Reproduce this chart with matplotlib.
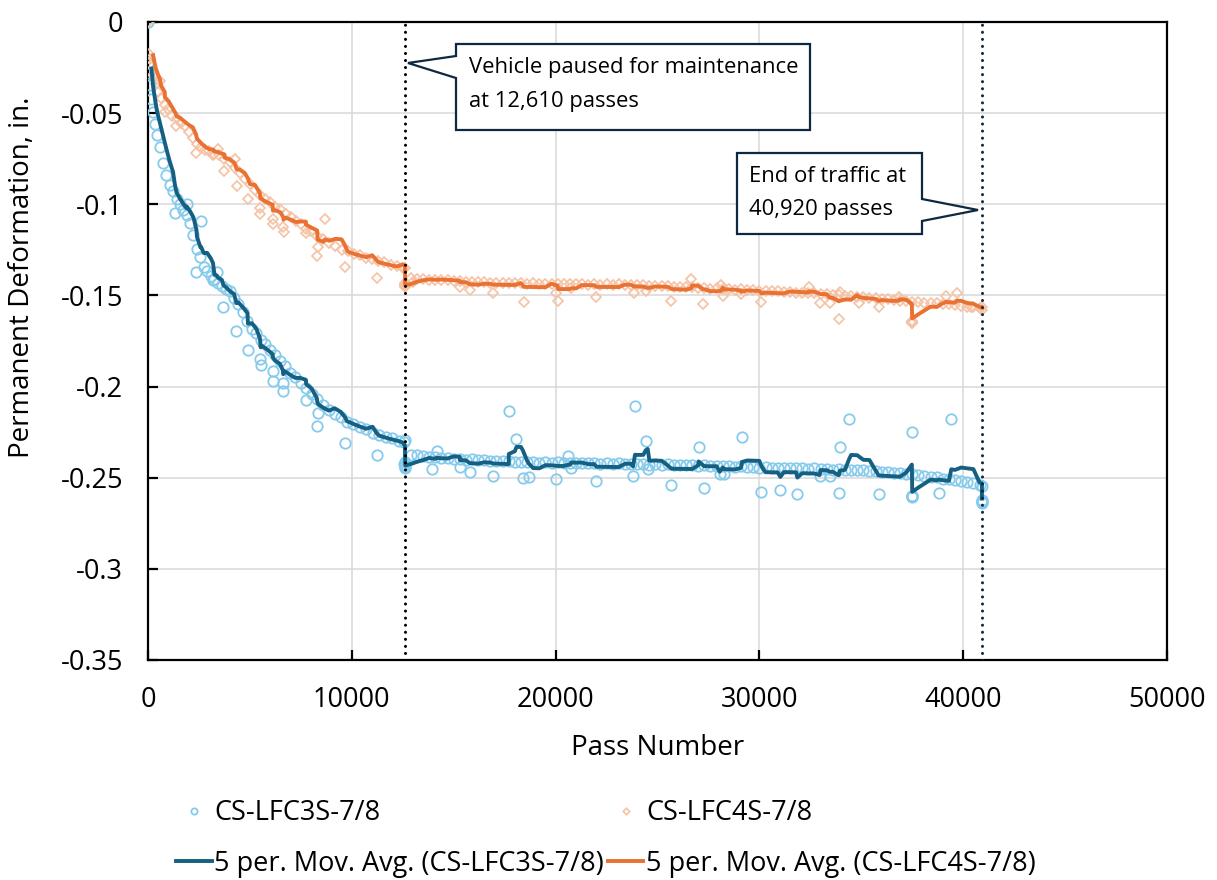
import numpy as np
import pandas as pd
import matplotlib
matplotlib.use("Agg")
import matplotlib.pyplot as plt
from matplotlib.patches import Polygon
from matplotlib.ticker import FuncFormatter

# ---------------------------------------------------------------------------
# Permanent deformation readings (pass number, deformation in inches)
# ---------------------------------------------------------------------------
series_3s = "CS-LFC3S-7/8"
series_4s = "CS-LFC4S-7/8"

# CS-LFC3S-7/8: readings along the main trend
pass_3s_main = [
    0, 20, 50, 100, 170, 250, 340, 440, 590, 740, 900, 1060, 1230, 1400, 1560,
    1720, 1890, 2060, 2230, 2400, 2570, 2740, 2900, 3080, 3260, 3440, 3620,
    3820, 4020, 4220, 4440, 4660, 4880, 5100, 5320, 5540, 5760, 5980, 6220,
    6470, 6720, 6970, 7230, 7490, 7760, 8030, 8300, 8580, 8870, 9160, 9460,
    9760, 10070, 10380, 10700, 11020, 11340, 11660, 11980, 12300, 12560,
    12900, 13200, 13500, 13800, 14100, 14400, 14700, 15000, 15300, 15600,
    15900, 16200, 16500, 16800, 17100, 17400, 17700, 18000, 18300, 18600,
    18900, 19200, 19500, 19800, 20100, 20400, 20700, 21000, 21300, 21600,
    21900, 22200, 22500, 22800, 23100, 23400, 23700, 24000, 24300, 24600,
    24900, 25200, 25500, 25800, 26100, 26400, 26700, 27000, 27300, 27600,
    27900, 28200, 28500, 28800, 29100, 29400, 29700, 30000, 30300, 30600,
    30900, 31200, 31500, 31800, 32100, 32400, 32700, 33000, 33300, 33600,
    33900, 34200, 34500, 34800, 35100, 35400, 35700, 36000, 36300, 36600,
    36900, 37200, 37500, 37800, 38100, 38400, 38700, 39000, 39300, 39600,
    39900, 40200, 40500, 40800,
]
defl_3s_main = [
    0.0, -0.0225, -0.0282, -0.0348, -0.0421, -0.0493, -0.0558, -0.0622,
    -0.0688, -0.0772, -0.0838, -0.0893, -0.0927, -0.0972, -0.0998, -0.1032,
    -0.1058, -0.1103, -0.1168, -0.1243, -0.1288, -0.1342, -0.1368, -0.1392,
    -0.1408, -0.1433, -0.1447, -0.1462, -0.1478, -0.1513, -0.1548, -0.1592,
    -0.1638, -0.1683, -0.1707, -0.1743, -0.1768, -0.1802, -0.1828, -0.1862,
    -0.1888, -0.1923, -0.1948, -0.1982, -0.2008, -0.2042, -0.2068, -0.2102,
    -0.2128, -0.2152, -0.2168, -0.2192, -0.2203, -0.2222, -0.2233, -0.2252,
    -0.2263, -0.2277, -0.2284, -0.2296, -0.2302,
    -0.2373, -0.2378, -0.2380, -0.2386, -0.2384, -0.2391, -0.2392, -0.2395,
    -0.2396, -0.2401, -0.2400, -0.2405, -0.2404, -0.2409, -0.2407, -0.2411,
    -0.2410, -0.2414, -0.2412, -0.2416, -0.2414, -0.2418, -0.2415, -0.2419,
    -0.2416, -0.2420, -0.2418, -0.2421, -0.2419, -0.2422, -0.2420, -0.2424,
    -0.2421, -0.2425, -0.2422, -0.2426, -0.2424, -0.2427, -0.2425, -0.2428,
    -0.2426, -0.2430, -0.2427, -0.2431, -0.2428, -0.2432, -0.2430, -0.2434,
    -0.2432, -0.2435, -0.2433, -0.2437, -0.2435, -0.2439, -0.2437, -0.2442,
    -0.2440, -0.2444, -0.2442, -0.2446, -0.2444, -0.2447, -0.2445, -0.2449,
    -0.2447, -0.2451, -0.2449, -0.2453, -0.2450, -0.2455, -0.2453, -0.2457,
    -0.2455, -0.2460, -0.2459, -0.2463, -0.2463, -0.2468, -0.2467, -0.2473,
    -0.2473, -0.2479, -0.2480, -0.2487, -0.2488, -0.2496, -0.2497, -0.2505,
    -0.2506, -0.2514, -0.2517, -0.2526, -0.2529, -0.2542,
]

# CS-LFC3S-7/8: scattered readings and repeat readings at the pauses
pass_3s_spread = [
    1324, 1898, 2378, 2599, 3188, 3369, 3703, 4340, 4904, 5492, 5527, 6115,
    6130, 6620, 6635, 7748, 8288, 8337, 9686, 11230, 12554,
    12600, 12610, 12610, 12610, 12615, 12620,
    13927, 14158, 15300, 15791, 16919, 17703, 18081, 18390, 18684, 20043,
    20597, 20778, 22004, 23799, 23897, 24422, 24520, 25682, 27020, 27281,
    28051, 28262, 29145, 30096, 31028, 31862, 32955, 33445, 33887, 33936,
    34392, 35848, 37481, 37481, 37485, 37490, 37495, 37500, 38806, 39414,
    40920, 40920, 40920, 40920, 40920,
]
defl_3s_spread = [
    -0.1048, -0.0998, -0.1374, -0.1092, -0.1413, -0.1369, -0.1562, -0.1695,
    -0.1801, -0.1849, -0.1882, -0.1915, -0.1968, -0.1979, -0.2024, -0.2074,
    -0.2216, -0.2145, -0.2308, -0.2375, -0.2425,
    -0.2293, -0.2414, -0.2436, -0.2430, -0.2444, -0.2440,
    -0.2452, -0.2353, -0.2440, -0.2467, -0.2489, -0.2132, -0.2288, -0.2500,
    -0.2494, -0.2509, -0.2381, -0.2447, -0.2516, -0.2491, -0.2107, -0.2299,
    -0.2452, -0.2540, -0.2330, -0.2555, -0.2481, -0.2481, -0.2275, -0.2580,
    -0.2567, -0.2589, -0.2491, -0.2491, -0.2582, -0.2333, -0.2178, -0.2591,
    -0.2248, -0.2600, -0.2605, -0.2598, -0.2603, -0.2602, -0.2582, -0.2179,
    -0.2546, -0.2622, -0.2639, -0.2630, -0.2635,
]

# CS-LFC4S-7/8: readings along the main trend
pass_4s_main = [
    0, 30, 80, 150, 250, 370, 500, 650, 820, 1000, 1200, 1400, 1600, 1800,
    2000, 2200, 2400, 2600, 2800, 3000, 3250, 3500, 3750, 4000, 4250, 4500,
    4750, 5000, 5250, 5500, 5750, 6000, 6250, 6500, 6750, 7000, 7250, 7500,
    7750, 8000, 8300, 8600, 8900, 9200, 9500, 9800, 10100, 10400, 10700,
    11000, 11300, 11600, 11900, 12200, 12500,
    12900, 13200, 13500, 13800, 14100, 14400, 14700, 15000, 15300, 15600,
    15900, 16200, 16500, 16800, 17100, 17400, 17700, 18000, 18300, 18600,
    18900, 19200, 19500, 19800, 20100, 20400, 20700, 21000, 21300, 21600,
    21900, 22200, 22500, 22800, 23100, 23400, 23700, 24000, 24300, 24600,
    24900, 25200, 25500, 25800, 26100, 26400, 26700, 27000, 27300, 27600,
    27900, 28200, 28500, 28800, 29100, 29400, 29700, 30000, 30300, 30600,
    30900, 31200, 31500, 31800, 32100, 32400, 32700, 33000, 33300, 33600,
    33900, 34200, 34500, 34800, 35100, 35400, 35700, 36000, 36300, 36600,
    36900, 37200, 37500, 37800, 38100, 38400, 38700, 39000, 39300, 39600,
    39900, 40200, 40500, 40800,
]
defl_4s_main = [
    0.0, -0.0178, -0.0203, -0.0238, -0.0293, -0.0338, -0.0383, -0.0418,
    -0.0453, -0.0478, -0.0513, -0.0528, -0.0553, -0.0568, -0.0603, -0.0638,
    -0.0672, -0.0688, -0.0703, -0.0708, -0.0723, -0.0728, -0.0752, -0.0768,
    -0.0803, -0.0828, -0.0863, -0.0888, -0.0923, -0.0948, -0.0973, -0.0988,
    -0.1013, -0.1028, -0.1053, -0.1068, -0.1093, -0.1108, -0.1133, -0.1148,
    -0.1173, -0.1188, -0.1213, -0.1228, -0.1252, -0.1258, -0.1273, -0.1278,
    -0.1293, -0.1298, -0.1313, -0.1318, -0.1333, -0.1338, -0.1348,
    -0.1403, -0.1408, -0.1409, -0.1414, -0.1414, -0.1418, -0.1418, -0.1422,
    -0.1422, -0.1426, -0.1426, -0.1429, -0.1429, -0.1432, -0.1430, -0.1433,
    -0.1431, -0.1434, -0.1433, -0.1435, -0.1434, -0.1436, -0.1435, -0.1438,
    -0.1436, -0.1439, -0.1437, -0.1440, -0.1439, -0.1441, -0.1439, -0.1441,
    -0.1439, -0.1442, -0.1440, -0.1443, -0.1442, -0.1444, -0.1443, -0.1446,
    -0.1446, -0.1449, -0.1449, -0.1453, -0.1452, -0.1456, -0.1455, -0.1459,
    -0.1458, -0.1462, -0.1461, -0.1465, -0.1464, -0.1468, -0.1467, -0.1471,
    -0.1470, -0.1474, -0.1474, -0.1478, -0.1477, -0.1481, -0.1481, -0.1485,
    -0.1485, -0.1489, -0.1488, -0.1493, -0.1493, -0.1497, -0.1498, -0.1503,
    -0.1504, -0.1509, -0.1510, -0.1515, -0.1516, -0.1521, -0.1522, -0.1527,
    -0.1528, -0.1533, -0.1534, -0.1538, -0.1539, -0.1543, -0.1544, -0.1549,
    -0.1549, -0.1554, -0.1556, -0.1561, -0.1564, -0.1570,
]

# CS-LFC4S-7/8: scattered readings and repeat readings at the pauses
pass_4s_spread = [
    589, 834, 1358, 2354, 3202, 3418, 3752, 4266, 4350, 4919, 5493, 5517,
    6115, 6130, 6635, 6650, 7748, 8312, 8322, 8680, 9661, 11245,
    12600, 12610, 12610, 12610, 12615, 12620,
    13010, 15300, 15791, 16934, 18439, 20043, 20122, 20778, 22004, 23833,
    24456, 25682, 26663, 27232, 28134, 28213, 29115, 30096, 32415, 32955,
    33445, 33887, 33936, 34868, 35848, 36844,
    37481, 37485, 37490, 37495, 37500, 39168, 39688, 40394, 40920, 40920,
]
defl_4s_spread = [
    -0.0322, -0.0492, -0.0571, -0.0717, -0.0730, -0.0698, -0.0820, -0.0752,
    -0.0898, -0.0969, -0.1053, -0.1022, -0.1081, -0.1110, -0.1122, -0.1150,
    -0.1155, -0.1282, -0.1236, -0.1082, -0.1346, -0.1406,
    -0.1351, -0.1432, -0.1445, -0.1452, -0.1448, -0.1440,
    -0.1425, -0.1452, -0.1470, -0.1485, -0.1534, -0.1485, -0.1529, -0.1461,
    -0.1507, -0.1485, -0.1474, -0.1531, -0.1412, -0.1547, -0.1443, -0.1503,
    -0.1494, -0.1534, -0.1452, -0.1540, -0.1543, -0.1631, -0.1480, -0.1543,
    -0.1565, -0.1507,
    -0.1640, -0.1650, -0.1645, -0.1648, -0.1652, -0.1502, -0.1488, -0.1562,
    -0.1562, -0.1578,
]

pause_pass = 12610
end_pass = 40920

x_ticks = [0, 10000, 20000, 30000, 40000, 50000]
y_ticks = [-0.35, -0.30, -0.25, -0.20, -0.15, -0.10, -0.05, 0.0]

# ---------------------------------------------------------------------------
C_3S_PT = "#86CBEB"
C_4S_PT = "#F5C2A4"
C_3S_MA = "#156082"
C_4S_MA = "#E97132"
C_NAVY = "#0E2841"

plt.rcParams["font.family"] = ["Open Sans", "DejaVu Sans"]
FS_TICK = 19.5
FS_TITLE = 20
FS_LEG = 19.5


def combine(xa, ya, xb, yb):
    x = np.concatenate([np.asarray(xa, float), np.asarray(xb, float)])
    y = np.concatenate([np.asarray(ya, float), np.asarray(yb, float)])
    order = np.argsort(x, kind="stable")
    return x[order], y[order]


x3, y3 = combine(pass_3s_main, defl_3s_main, pass_3s_spread, defl_3s_spread)
x4, y4 = combine(pass_4s_main, defl_4s_main, pass_4s_spread, defl_4s_spread)
ma3 = pd.Series(y3).rolling(5).mean().to_numpy()
ma4 = pd.Series(y4).rolling(5).mean().to_numpy()

W, H = 1217, 880
fig = plt.figure(figsize=(W / 100, H / 100), dpi=100)
L, R, T, B = 148, 1167, 22, 660
ax = fig.add_axes([L / W, 1 - B / H, (R - L) / W, (B - T) / H])

h1, = ax.plot(x3, y3, "o", ls="none", mfc="none", mec=C_3S_PT, ms=7.5, mew=1.3,
              label=series_3s, zorder=3)
h2, = ax.plot(x4, y4, "D", ls="none", mfc="none", mec=C_4S_PT, ms=5.5, mew=1.2,
              label=series_4s, zorder=3)
h3, = ax.plot(x3, ma3, color=C_3S_MA, lw=2.8, solid_joinstyle="round",
              label=f"5 per. Mov. Avg. ({series_3s})", zorder=4)
h4, = ax.plot(x4, ma4, color=C_4S_MA, lw=2.8, solid_joinstyle="round",
              label=f"5 per. Mov. Avg. ({series_4s})", zorder=4)

ax.axvline(pause_pass, color="black", lw=2.2, ls=(0, (0.01, 2.3)),
           dash_capstyle="round", zorder=6)
ax.axvline(end_pass, color=C_NAVY, lw=2.2, ls=(0, (0.01, 2.3)),
           dash_capstyle="round", zorder=6)

ax.set_xlim(0, 50000)
ax.set_ylim(-0.35, 0)
ax.set_xticks(x_ticks)
ax.set_yticks(y_ticks)
ax.yaxis.set_major_formatter(FuncFormatter(
    lambda v, p: "0" if abs(v) < 1e-9 else "%g" % round(v, 2)))
ax.grid(True, color="#D9D9D9", lw=1.1, zorder=0)
ax.set_axisbelow(True)
for s in ax.spines.values():
    s.set_linewidth(1.6)
    s.set_color("black")
ax.tick_params(direction="in", length=7, width=1.6, labelsize=FS_TICK, pad=19,
               colors="black")
ax.tick_params(axis="y", pad=18)

ax.set_xlabel("Pass Number", fontsize=FS_TITLE, labelpad=14)
ax.set_ylabel("Permanent Deformation, in.", fontsize=FS_TITLE)
ax.yaxis.set_label_coords(-0.1095, 0.60)


def fx(px):
    return (px - L) / (R - L)


def fy(py):
    return (B - py) / (B - T)


def callout(verts, lines, tx, ty, dy):
    poly = Polygon(verts, closed=True, transform=ax.transAxes, facecolor="white",
                   edgecolor=C_NAVY, lw=1.6, joinstyle="miter", zorder=7,
                   clip_on=False)
    ax.add_patch(poly)
    for i, s in enumerate(lines):
        ax.text(tx, ty - i * dy, s, transform=ax.transAxes, fontsize=15.8,
                ha="left", va="center", zorder=8)


callout([(fx(456), fy(44)), (fx(810), fy(44)), (fx(810), fy(130)),
         (fx(456), fy(130)), (fx(456), fy(78)), (fx(408), fy(63)),
         (fx(456), fy(56))],
        ["Vehicle paused for maintenance", "at 12,610 passes"],
        fx(469), fy(68), fy(68) - fy(101))

callout([(fx(737), fy(153)), (fx(922), fy(153)), (fx(922), fy(199)),
         (fx(978), fy(210)), (fx(922), fy(221)), (fx(922), fy(234)),
         (fx(737), fy(234))],
        ["End of traffic at", "40,920 passes"],
        fx(749), fy(176), fy(176) - fy(210))

fig.legend([h1, h3, h2, h4],
           [h1.get_label(), h3.get_label(), h2.get_label(), h4.get_label()],
           loc="upper center", bbox_to_anchor=(0.498, 1 - 775 / H), ncol=2,
           frameon=False, fontsize=FS_LEG, handlelength=1.3, handletextpad=0.1,
           columnspacing=0.15, labelspacing=0.83, markerscale=0.6)

fig.savefig("out.png", dpi=100, facecolor="white")
